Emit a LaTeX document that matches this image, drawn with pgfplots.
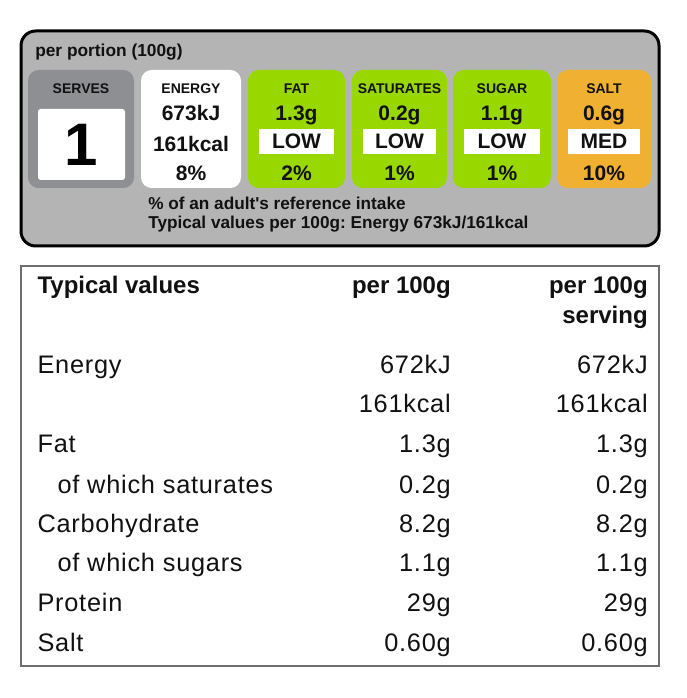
\documentclass[border=0pt]{standalone}
\usepackage{fontspec}
\setmainfont{Liberation Sans}
\newfontfamily\tabfont[LetterSpace=3]{Liberation Sans}
\usepackage{pgfplots}
\usepackage{pgfplotstable}
\pgfplotsset{compat=1.18}
\frenchspacing

\definecolor{panel}{HTML}{B4B4B4}
\definecolor{serves}{HTML}{8E8F92}
\definecolor{lowgreen}{HTML}{99D700}
\definecolor{medamber}{HTML}{F0B032}
\definecolor{tabline}{HTML}{6E6E6E}
\definecolor{txt}{HTML}{111111}

\newcommand{\fs}[1]{\fontsize{#1}{#1}\selectfont}

% nutrition table, baselines in pixel rows of the label
\pgfplotstableread[col sep=comma]{
x,y,label
37.3,373,Energy
37.3,452.5,Fat
57.3,493,of which saturates
37.3,532,Carbohydrate
57.3,571,of which sugars
37.3,611.5,Protein
37.3,651,Salt
}\rowlabels

\pgfplotstableread[col sep=comma]{
y,per,serv
373,672kJ,672kJ
412,161kcal,161kcal
452.5,1.3g,1.3g
493,0.2g,0.2g
532,8.2g,8.2g
571,1.1g,1.1g
611.5,29g,29g
651,0.60g,0.60g
}\rowvalues

% one traffic-light box: x1, x2, centre, colour, name, amount, level, percent
\newcommand{\tlbox}[8]{%
  \fill[#4, rounded corners=8pt] (axis cs:#1,70) rectangle (axis cs:#2,188);
  \node[anchor=base, inner sep=0pt, font=\bfseries\fs{10.5}, text=txt] at (axis cs:#3,94) {#5};
  \node[anchor=base, inner sep=0pt, font=\bfseries\fs{15.75}, text=txt] at (axis cs:#3,120.7) {#6};
  \fill[white] (axis cs:#1+11,129) rectangle (axis cs:#2-11,154);
  \node[anchor=base, inner sep=0pt, font=\bfseries\fs{15.75}, text=txt] at (axis cs:#3,148.7) {#7};
  \node[anchor=base, inner sep=0pt, font=\bfseries\fs{15.75}, text=txt] at (axis cs:#3,180.7) {#8};
}

\begin{document}
\begin{tikzpicture}
\begin{axis}[
    width=514.5pt, height=523.5pt, scale only axis,
    xmin=0, xmax=686, ymin=0, ymax=698,
    y dir=reverse,
    axis lines=none,
    clip=false,
]
% keep the page as large as the whole label
\path (axis cs:0,0) rectangle (axis cs:686,698);

% front-of-pack panel
\draw[fill=panel, draw=black, line width=2.25pt, rounded corners=11pt]
    (axis cs:21,31) rectangle (axis cs:659,246);
\node[anchor=base west, inner sep=0pt, font=\bfseries\fs{13}, text=txt] at (axis cs:35,57) {per portion (100g)};

\fill[serves, rounded corners=8pt] (axis cs:28,70) rectangle (axis cs:134,188);
\node[anchor=base, inner sep=0pt, font=\bfseries\fs{10.5}, text=txt] at (axis cs:81,94) {SERVES};
\fill[white, rounded corners=2pt] (axis cs:38,109) rectangle (axis cs:125,180);
\node[anchor=base, inner sep=0pt, font=\bfseries\fs{45}, text=black] at (axis cs:81.5,166) {1};

\fill[white, rounded corners=8pt] (axis cs:141,70) rectangle (axis cs:241,188);
\node[anchor=base, inner sep=0pt, font=\bfseries\fs{10.5}, text=txt] at (axis cs:191,94) {ENERGY};
\node[anchor=base, inner sep=0pt, font=\bfseries\fs{15.75}, text=txt] at (axis cs:191,120.7) {673kJ};
\node[anchor=base, inner sep=0pt, font=\bfseries\fs{15.75}, text=txt] at (axis cs:191,151.7) {161kcal};
\node[anchor=base, inner sep=0pt, font=\bfseries\fs{15.75}, text=txt] at (axis cs:191,180.7) {8\%};

\tlbox{248}{345}{296.5}{lowgreen}{FAT}{1.3g}{LOW}{2\%}
\tlbox{352}{447}{399.5}{lowgreen}{SATURATES}{0.2g}{LOW}{1\%}
\tlbox{453}{551}{502}{lowgreen}{SUGAR}{1.1g}{LOW}{1\%}
\tlbox{557}{651}{604}{medamber}{SALT}{0.6g}{MED}{10\%}

\node[anchor=base west, inner sep=0pt, font=\bfseries\fs{12.9}, text=txt] at (axis cs:148,210) {\% of an adult\textquotesingle s reference intake};
\node[anchor=base west, inner sep=0pt, font=\bfseries\fs{12.9}, text=txt] at (axis cs:148,228.5) {Typical values per 100g: Energy 673kJ/161kcal};

% nutrition table
\draw[tabline, line width=1.2pt, fill=white] (axis cs:21,266) rectangle (axis cs:659,666);
\node[anchor=base west, inner sep=0pt, font=\bfseries\fs{18}, text=txt] at (axis cs:37.3,293) {Typical values};
\node[anchor=base east, inner sep=0pt, font=\bfseries\fs{18}, text=txt] at (axis cs:451,293) {per 100g};
\node[anchor=base east, inner sep=0pt, font=\bfseries\fs{18}, text=txt] at (axis cs:648,293) {per 100g};
\node[anchor=base east, inner sep=0pt, font=\bfseries\fs{18}, text=txt] at (axis cs:648,323) {serving};

\addplot[draw=none, mark=none, nodes near coords, point meta=explicit symbolic,
    nodes near coords style={anchor=base west, inner sep=0pt, font=\tabfont\fs{19}, text=txt}]
    table[x=x, y=y, meta=label]{\rowlabels};
\addplot[draw=none, mark=none, nodes near coords, point meta=explicit symbolic,
    nodes near coords style={anchor=base east, inner sep=0pt, font=\tabfont\fs{19}, text=txt}]
    table[x expr=451, y=y, meta=per]{\rowvalues};
\addplot[draw=none, mark=none, nodes near coords, point meta=explicit symbolic,
    nodes near coords style={anchor=base east, inner sep=0pt, font=\tabfont\fs{19}, text=txt}]
    table[x expr=648, y=y, meta=serv]{\rowvalues};
\end{axis}
\end{tikzpicture}
\end{document}
